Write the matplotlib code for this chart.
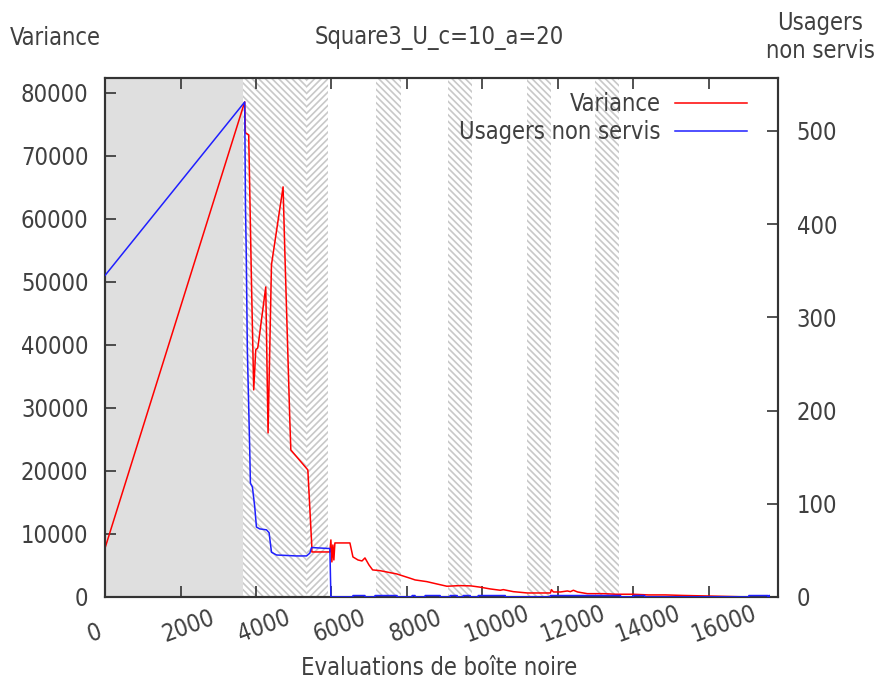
import matplotlib
matplotlib.use("Agg")
import matplotlib.pyplot as plt
import matplotlib.transforms as mtransforms
from matplotlib.patches import Rectangle

plt.rcParams['font.family'] = ['DejaVu Sans']
plt.rcParams['font.stretch'] = 'condensed'
plt.rcParams['hatch.color'] = '#c8c8c8'
plt.rcParams['hatch.linewidth'] = 1.2

# Variance (left axis)
var_x = [0, 3700, 3718, 3806, 3878, 3939, 3992, 4045, 4058, 4258, 4319, 4409, 4717, 4762,
         4895, 4922, 5373, 5479, 5479, 5904, 5957, 5984, 6010, 6037, 6063, 6090, 6488,
         6568, 6701, 6808, 6887, 6993, 7090, 7286, 7730, 8082, 8162, 8215, 8526, 8792,
         9057, 9410, 9700, 9942, 10207, 10473, 10553, 10818, 11190, 11800, 11830, 11880,
         12070, 12250, 12330, 12410, 12520, 12780, 13210, 13530, 13980, 14400, 14850,
         15300, 17060]
var_y = [7780, 78570, 73650, 73330, 50320, 32860, 39200, 39520, 40000, 49200, 26030, 52700,
         65080, 55080, 28100, 23330, 20160, 7940, 7140, 7140, 7140, 9050, 5560, 8250, 5870,
         8570, 8570, 6350, 5870, 5710, 6190, 5080, 4290, 4170, 3650, 2970, 2810, 2700, 2430,
         2060, 1700, 1800, 1750, 1550, 1270, 1060, 1160, 840, 630, 630, 1160, 790, 790, 950,
         840, 1060, 790, 520, 520, 430, 430, 320, 320, 240, 0]

# Usagers non servis (right axis)
usa_x = [0, 3700, 3720, 3740, 3770, 3833, 3851, 3904, 3965, 4011, 4098, 4276, 4346, 4409,
         4542, 5073, 5339, 5426, 5471, 5912, 5957, 5984,
         6568, 6568, 6887, 6887, 7153, 7153, 7737, 7737, 8136, 8136, 8215, 8215,
         8481, 8481, 8880, 8880, 9145, 9145, 9331, 9331, 9490, 9490, 9676, 9676,
         9888, 9888, 10605, 10605, 11800, 11800, 13660, 13660, 14000, 14000, 14300, 14300,
         17060, 17060, 17560, 17560, 17600, 17600]
usa_y = [345, 531, 420, 372, 265, 158, 122, 118, 97, 75, 73, 72, 69, 48,
         45, 44, 44, 47, 53, 52, 52, 0,
         0, 1.5, 1.5, 0, 0, 1.5, 1.5, 0, 0, 1.5, 1.5, 0,
         0, 1.5, 1.5, 0, 0, 1.5, 1.5, 0, 0, 1.5, 1.5, 0,
         0, 1.5, 1.5, 0, 0, 1.5, 1.5, 0, 0, 1.5, 1.5, 0,
         0, 1.5, 1.5, 0, 0, 1.5]

# shaded phases
grey_span = (0, 3650)
hatch_spans = [(3650, 5346, '\\' * 5), (5346, 5904, '/' * 5), (7180, 7842, '\\' * 5),
               (9092, 9729, '\\' * 5), (11190, 11827, '\\' * 5), (12970, 13607, '\\' * 5)]

x_ticks = [0, 2000, 4000, 6000, 8000, 10000, 12000, 14000, 16000]

fs = 17
txt = '#404040'

fig = plt.figure(figsize=(8.83, 6.83), dpi=100)
ax = fig.add_axes([0.119, 0.126, 0.762, 0.760])
ax2 = ax.twinx()

ax.add_patch(Rectangle((grey_span[0], 0), grey_span[1] - grey_span[0], 82380,
                       facecolor='#dfdfdf', edgecolor='none', zorder=0))
for a, b, h in hatch_spans:
    ax.add_patch(Rectangle((a, 0), b - a, 82380, facecolor='none', edgecolor='#c8c8c8',
                           hatch=h, linewidth=0, zorder=0))

l1, = ax.plot(var_x, var_y, color='#ff0000', lw=1.1, label='Variance', zorder=3)
l2, = ax2.plot(usa_x, usa_y, color='#1f1fff', lw=1.1, label='Usagers non servis', zorder=3)

ax.set_xlim(0, 17830)
ax.set_ylim(0, 82380)
ax2.set_ylim(0, 556.9)
ax.set_xticks(x_ticks)
ax.set_xticklabels([str(t) for t in x_ticks])
ax.set_yticks(range(0, 80001, 10000))
ax2.set_yticks(range(0, 501, 100))

ax.tick_params(axis='x', direction='in', length=8, width=1.2, top=True, labelsize=fs, pad=28,
               colors='#333333', labelcolor=txt)
ax.tick_params(axis='y', direction='in', length=8, width=1.2, labelsize=fs, pad=12,
               colors='#333333', labelcolor=txt)
ax2.tick_params(axis='y', direction='in', length=8, width=1.2, labelsize=fs, pad=13.5,
                colors='#333333', labelcolor=txt)
shift = mtransforms.ScaledTranslation(-0.17, 0, fig.dpi_scale_trans)
for lab in ax.get_xticklabels():
    lab.set_rotation(20)
    lab.set_rotation_mode('anchor')
    lab.set_ha('left')
    lab.set_va('center')
    lab.set_transform(lab.get_transform() + shift)
for a in (ax, ax2):
    for s in a.spines.values():
        s.set_linewidth(1.5)
        s.set_color('#333333')

fig.text(0.497, 0.022, 'Evaluations de boîte noire', fontsize=fs, color=txt, ha='center', va='center')
fig.text(0.011, 0.944, 'Variance', fontsize=fs, color=txt, va='center')
fig.text(0.498, 0.944, 'Square3_U_c=10_a=20', fontsize=fs, color=txt, ha='center', va='center')
fig.text(0.929, 0.946, 'Usagers\nnon servis', fontsize=fs, color=txt, ha='center',
         va='center', linespacing=1.25)

leg = ax.legend([l1, l2], ['Variance', 'Usagers non servis'], loc='upper right',
                bbox_to_anchor=(0.985, 1.013), frameon=False, markerfirst=False,
                fontsize=fs, handlelength=3.05, handletextpad=0.6, labelspacing=0.15)
for t in leg.get_texts():
    t.set_color(txt)

fig.savefig('out.png', dpi=100)
